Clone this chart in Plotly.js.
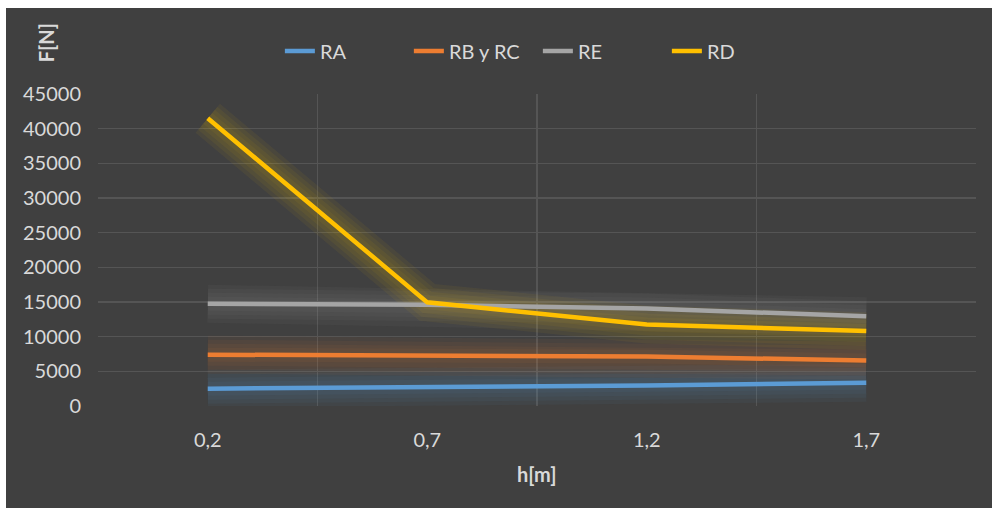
<!DOCTYPE html>
<html>
<head>
<meta charset="utf-8">
<script src="https://cdn.plot.ly/plotly-3.0.1.min.js"></script>
<style>
  html, body { margin: 0; padding: 0; background: #ffffff; width: 992px; height: 508px; overflow: hidden; }
  #chart { position: absolute; left: 6px; top: 8px; width: 986px; height: 500px; }
</style>
</head>
<body>
<div id="chart"></div>
<script>
// Data
const categories = ["0,2", "0,7", "1,2", "1,7"];
const seriesNames = ["RA", "RB y RC", "RE", "RD"];
const RA = [2500, 2650, 2950, 3350];
const RByRC = [7400, 7300, 7150, 6550];
const RE = [14750, 14600, 14050, 12950];
const RD = [41500, 14950, 11750, 10800];
const yTicks = [0, 5000, 10000, 15000, 20000, 25000, 30000, 35000, 40000, 45000];

const seriesValues = [RA, RByRC, RE, RD];
const colors = ["#5B9BD5", "#ED7D31", "#A5A5A5", "#FFC000"];
const FONT = "Lato, 'Open Sans', sans-serif";

const traces = [];
// soft glow layers (under main lines)
const glowWidths = [38, 30, 22, 14];
seriesValues.forEach((vals, i) => {
  glowWidths.forEach(w => {
    traces.push({
      x: categories, y: vals, type: "scatter", mode: "lines",
      line: { color: colors[i], width: w },
      opacity: 0.055,
      showlegend: false, hoverinfo: "skip"
    });
  });
});
seriesValues.forEach((vals, i) => {
  traces.push({
    x: categories, y: vals, type: "scatter", mode: "lines",
    name: seriesNames[i],
    line: { color: colors[i], width: 4.5 },
    showlegend: true
  });
});

const layout = {
  width: 986, height: 500,
  paper_bgcolor: "#404040",
  plot_bgcolor: "#404040",
  margin: { l: 92, r: 16, t: 86, b: 102 },
  font: { family: FONT, size: 20, color: "#d9d9d9" },
  showlegend: true,
  legend: {
    orientation: "h", x: 0.501, y: 1.138, xanchor: "center", yanchor: "middle",
    font: { family: FONT, size: 20, color: "#d9d9d9" },
    bgcolor: "rgba(0,0,0,0)", itemwidth: 30,
    entrywidth: 84, entrywidthmode: "pixels"
  },
  xaxis: {
    type: "category", categoryorder: "array", categoryarray: categories,
    range: [-0.5, 3.5],
    tickson: "boundaries",
    showgrid: true, gridcolor: "#555555", gridwidth: 1.3,
    showline: false, zeroline: false, ticks: "",
    ticklabelstandoff: 20,
    tickfont: { family: FONT, size: 20, color: "#d9d9d9" },
    fixedrange: true
  },
  yaxis: {
    range: [0, 45000], tickmode: "array", tickvals: yTicks,
    ticktext: yTicks.map(String),
    showgrid: true, gridcolor: "#555555", gridwidth: 1.3,
    zeroline: false, showline: false, ticks: "",
    ticklabelstandoff: 16,
    tickfont: { family: FONT, size: 20, color: "#d9d9d9" },
    fixedrange: true
  },
  annotations: [
    {
      text: "<b>F[N]</b>", textangle: -90, xref: "paper", yref: "paper",
      x: -0.059, y: 1.163, xanchor: "center", yanchor: "middle", showarrow: false,
      font: { family: FONT, size: 20, color: "#d9d9d9" }
    },
    {
      text: "<b>h[m]</b>", xref: "paper", yref: "paper",
      x: 0.5, y: -0.218, xanchor: "center", yanchor: "middle", showarrow: false,
      font: { family: FONT, size: 20, color: "#d9d9d9" }
    }
  ]
};

Plotly.newPlot("chart", traces, layout, { staticPlot: true, displayModeBar: false });
</script>
</body>
</html>
